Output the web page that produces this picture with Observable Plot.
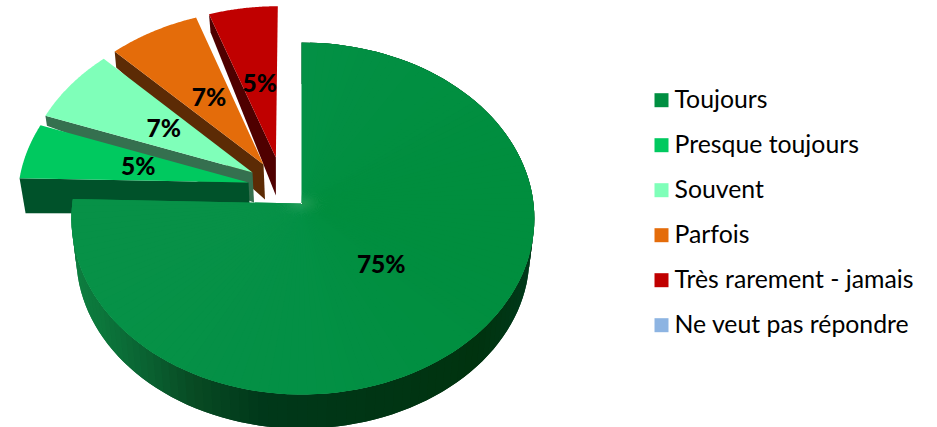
<!DOCTYPE html>
<html><head><meta charset="utf-8">
<script src="https://cdn.jsdelivr.net/npm/d3@7"></script>
<script src="https://cdn.jsdelivr.net/npm/@observablehq/plot@0.6"></script>
<style>html,body{margin:0;padding:0;background:#fff}svg{display:block}</style>
</head><body><div id="chart"></div>
<script>
const categories = ["Toujours","Presque toujours","Souvent","Parfois","Très rarement - jamais","Ne veut pas répondre"];
const shares = [75.4,5.2,7,7,5.4,0];
const topColors = ["#008f41","#00c95f","#7fffb9","#e46c0a","#c00000","#8db4e2"];
const wallColors = [null,"#00522a","#35704f","#5c2b05","#4f0000",null];
const legendRows = categories.map((name,i)=>({name,color:topColors[i],row:i}));

// Perspective of the pie plane (tuned to the picture)
const W=937,H=427,CX=301,AY=203,RX=232,RY=174.7,K=0.0852,S=0.979,VY=2014;
const explode=[[0,0],[-.2307,.1213],[-.2144,.1801],[-.167,.2275],[-.113,.2693],[0,0]];
const radius=[1,1,1,1,.98,1];
const labelRadius=[.478,.495,.478,.478,.465,.478];
const wallDepth=[null,[35,31],[10,30],[16,35],[18,38],null]; // outer, apex
const project=(u,v)=>{const p=1/(1+K*v);return [CX+RX*u*p,AY-RY*v*p];};
const pie=d3.pie().sort(null).value(d=>d)(shares);
const slices=pie.map((a,i)=>({i,a0:a.startAngle,a1:a.endAngle,mid:(a.startAngle+a.endAngle)/2,ox:explode[i][0],oy:explode[i][1],r:radius[i]}));
const at=(s,th,r=s.r)=>{
  let u=r*Math.sin(th);
  if(s.i===0&&u<0)u*=.988;   // the main slice is slightly narrower on its left
  return project(s.ox+u,s.oy+r*Math.cos(th));
};

// back-to-front: exploded wedges, then the main slice
const wedgeRows=[];
[4,3,2,1].forEach(i=>{
  const s=slices[i],c=project(s.ox,s.oy),o=at(s,s.a0);
  const [dO,dA]=wallDepth[i];
  const wall=[o,c,[c[0]+(i===4?0:1.5),c[1]+dA],[o[0]+(i===1?6:1.5),o[1]+dO]];
  const arc=d3.range(0,61).map(t=>at(s,s.a0+(s.a1-s.a0)*t/60));
  const face=[c,...arc];
  wedgeRows.push(...wall.map(([x,y])=>({id:"w"+i,fill:wallColors[i],x,y})));
  wedgeRows.push(...face.map(([x,y])=>({id:"f"+i,fill:topColors[i],x,y})));
});

// main slice wall (shaded) and top: each piece overlaps the next one to avoid seams
const m=slices[0];
const shade=d3.scaleLinear().domain([72,100,140,193,260,480,530]).range(["#0d7e40","#0c763b","#0a6433","#084a23","#00381a","#00330f","#00391a"]).clamp(true);
const topShade=d3.scaleLinear().domain([70,300,530]).range(["#079147","#039045","#008e3e"]);
const wallRows=[],topRows=[];
const N=120;
const lower=([x,y])=>[CX+S*(x-CX),VY+S*(y-VY)];
const angle=n=>m.a0+(m.a1-m.a0)*Math.min(n,N)/N;
d3.range(N).forEach(n=>{
  const a=at(m,angle(n)),b=at(m,angle(n+1)),e=at(m,angle(n+2));
  const mx=(a[0]+b[0])/2;
  [a,b,e,lower(e),lower(b),lower(a)].forEach(([x,y])=>wallRows.push({id:n,fill:shade(mx),x,y}));
  [project(0,0),a,b,e].forEach(([x,y])=>topRows.push({id:n,fill:topShade(mx),x,y}));
});

const labelRows=slices.filter((s,i)=>shares[i]>0).map(s=>{
  const [x,y]=at(s,s.mid,labelRadius[s.i]);
  return {x,y,text:Math.round(shares[s.i])+"%"};
});

const poly=rows=>Plot.line(rows,{x:"x",y:"y",z:"id",fill:"fill",stroke:null,curve:"linear"});
const plot=Plot.plot({
  width:W,height:H,margin:0,
  x:{domain:[0,W],range:[0,W],axis:null},
  y:{domain:[0,H],range:[0,H],axis:null},
  color:{type:"identity"},
  marks:[
    poly(wedgeRows),
    poly(wallRows),
    poly(topRows),
    Plot.text(labelRows,{x:"x",y:"y",text:"text",fontFamily:"Lato",fontWeight:900,fontSize:24.5,fill:"#000"}),
    Plot.dot(legendRows,{x:()=>661,y:d=>99.7+d.row*45,symbol:"square",r:7.9,fill:"color",stroke:"none"}),
    Plot.text(legendRows,{x:()=>674,y:d=>100+d.row*45,text:"name",textAnchor:"start",fontFamily:"Lato",fontSize:24.8,fill:"#000"})
  ]
});
plot.style.background="#fff";
document.getElementById("chart").append(plot);
</script></body></html>
